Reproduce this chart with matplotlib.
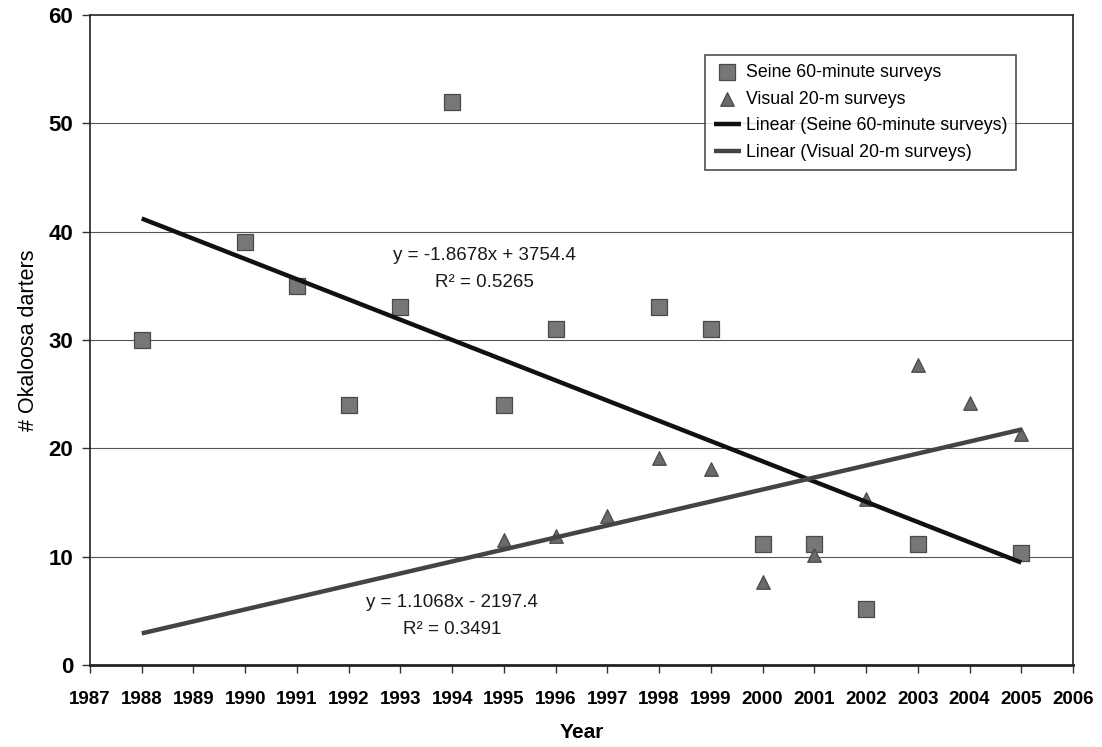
import matplotlib
matplotlib.use("Agg")
import matplotlib.pyplot as plt
import numpy as np

plt.rcParams['font.family'] = ['Liberation Sans', 'DejaVu Sans']

seine_years = [1988, 1990, 1991, 1992, 1993, 1994, 1995, 1996, 1998, 1999, 2000, 2001, 2002, 2003, 2005]
seine_vals = [30, 39, 35, 24, 33, 52, 24, 31, 33, 31, 11.2, 11.2, 5.2, 11.2, 10.3]
visual_years = [1995, 1996, 1997, 1998, 1999, 2000, 2001, 2002, 2003, 2004, 2005]
visual_vals = [11.5, 11.9, 13.8, 19.1, 18.1, 7.7, 10.2, 15.3, 27.7, 24.2, 21.3]

seine_fit = (-1.8678, 3754.4)
visual_fit = (1.1068, -2197.4)
fit_range = [1988, 2005]

x_ticks = list(range(1987, 2007))
y_ticks = [0, 10, 20, 30, 40, 50, 60]

fig = plt.figure(figsize=(11.02, 7.47), dpi=100)
ax = fig.add_axes([90/1102, 1-665/747, (1073-90)/1102, (665-15)/747])

ax.set_xlim(1987, 2006)
ax.set_ylim(0, 60)
for y in y_ticks[1:-1]:
    ax.axhline(y, color='#555555', lw=0.8, zorder=0)

ax.scatter(seine_years, seine_vals, marker='s', s=120, c='#777777', edgecolors='#4a4a4a',
           linewidths=0.9, zorder=3, label='Seine 60-minute surveys')
ax.scatter(visual_years, visual_vals, marker='^', s=95, c='#6a6a6a', edgecolors='#4a4a4a',
           linewidths=0.9, zorder=3, label='Visual 20-m surveys')

xr = np.array(fit_range, dtype=float)
ax.plot(xr, seine_fit[0]*xr + seine_fit[1], color='#111111', lw=3.2, zorder=4,
        label='Linear (Seine 60-minute surveys)', solid_capstyle='butt')
ax.plot(xr, visual_fit[0]*xr + visual_fit[1], color='#444444', lw=3.2, zorder=4,
        label='Linear (Visual 20-m surveys)', solid_capstyle='butt')

eq_kw = dict(ha='center', va='center', fontsize=13.5, color='#1a1a1a')
ax.text(1994.63, 37.8, 'y = -1.8678x + 3754.4', **eq_kw)
ax.text(1994.63, 35.3, 'R² = 0.5265', **eq_kw)
ax.text(1994.0, 5.75, 'y = 1.1068x - 2197.4', **eq_kw)
ax.text(1994.0, 3.25, 'R² = 0.3491', **eq_kw)

ax.set_xticks(x_ticks)
ax.set_xticklabels([str(v) for v in x_ticks], fontsize=13.5, fontweight='bold')
ax.set_yticks(y_ticks)
ax.set_yticklabels([str(v) for v in y_ticks], fontsize=16, fontweight='bold')
ax.tick_params(axis='x', direction='out', length=6, width=1, color='#333333', pad=13)
ax.tick_params(axis='y', direction='out', length=6, width=1, color='#333333', pad=6)
for s in ax.spines.values():
    s.set_linewidth(1.2)
    s.set_color('#222222')
ax.spines['bottom'].set_linewidth(2)

ax.set_xlabel('Year', fontsize=15, fontweight='bold')
ax.xaxis.set_label_coords(0.5, (665 - 723) / 650)
ax.set_ylabel('# Okaloosa darters', fontsize=15.5)
ax.yaxis.set_label_coords((39 - 90) / 983, 0.5)

leg = ax.legend(loc='upper left', bbox_to_anchor=((705-90)/983, 1-(55-15)/650), fontsize=12.8,
                frameon=True, fancybox=False, edgecolor='#222222', borderpad=0.5,
                handlelength=1.5, handletextpad=0.3, labelspacing=0.55, borderaxespad=0)
leg.get_frame().set_linewidth(1.2)

fig.savefig('out.png', dpi=100)
